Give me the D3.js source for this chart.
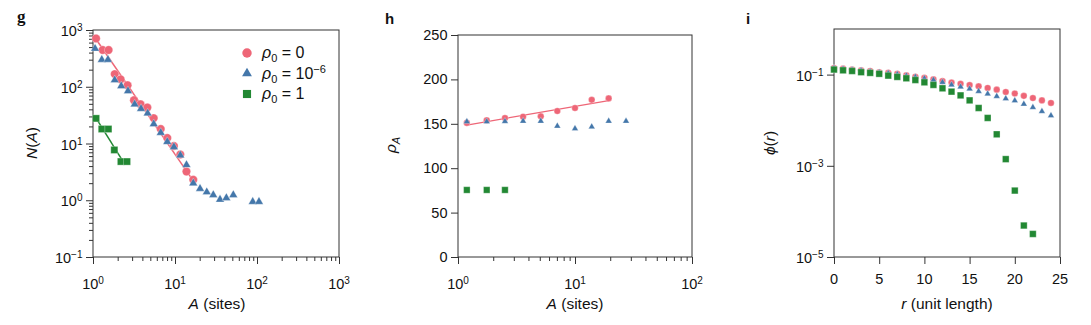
<!DOCTYPE html>
<html><head><meta charset="utf-8">
<script src="https://cdn.jsdelivr.net/npm/d3@7"></script>
<style>body{margin:0;background:#fff}</style>
</head><body>
<svg id="c" width="1091" height="325"></svg>
<script>
// ---------- DATA ----------
// Panel g : N(A) vs A
const gA0 = [1.09,1.31,1.55,1.84,2.17,2.64,3.16,3.8,4.6,5.5,6.7,8.05,9.7,11.6,13.8,16.7];
const gN0 = [710,444,444,167,135,106,58,49,43,28,18,12.5,9,6.4,3.2,2.3];
const gA6 = [1.06,1.28,1.52,1.84,2.21,2.67,3.22,3.85,4.64,5.5,6.7,8.05,9.7,11.6,13.8,16.7,20.2,24.4,29.3,35.4,42.3,51.4,88.7,105.7];
const gN6 = [470,300,300,131,103,84,49,41,34,22,15.5,10.7,8.7,6.2,4.2,2.0,1.6,1.39,1.24,1.03,1.1,1.24,0.94,0.94];
const gA1 = [1.09,1.28,1.54,1.82,2.19,2.6];
const gN1 = [27.7,18,18,7.7,4.8,4.8];
const gFitA0 = [1.06,16.7], gFitN0 = [730,2.2];
const gFitA1 = [1.09,2.34], gFitN1 = [28,4.75];
const gXTicks = [1,10,100,1000], gXExp = ["0","1","2","3"];
const gYTicks = [0.1,1,10,100,1000], gYExp = ["−1","0","1","2","3"];

// Panel h : rho_A vs A
const hA0 = [1.19,1.76,2.52,3.6,5.1,7.06,10,13.9,19.4];
const hR0 = [151,154,156.5,158,158.4,164.4,167.8,177,178.6];
const hA6 = [1.19,1.76,2.52,3.6,5.1,7.06,10,13.9,19.4,27.3];
const hR6 = [152.4,152.4,152.7,153,153,147.5,144.5,146.7,153,153];
const hA1 = [1.19,1.76,2.52];
const hR1 = [75.5,75.5,75.5];
const hFitA = [1.19,19.4], hFitR = [148.6,176];
const hXTicks = [1,10,100], hXExp = ["0","1","2"];
const hYTicks = [0,50,100,150,200,250];

// Panel i : phi(r) vs r
const iR = [0,1,2,3,4,5,6,7,8,9,10,11,12,13,14,15,16,17,18,19,20,21,22,23,24];
const iP0 = [0.140,0.1355,0.129,0.124,0.120,0.113,0.109,0.104,0.0966,0.090,0.0846,0.079,0.072,0.067,0.063,0.059,0.0553,0.051,0.0468,0.0415,0.0385,0.0342,0.0306,0.0272,0.0239];
const iP6 = [0.138,0.133,0.127,0.122,0.117,0.111,0.106,0.101,0.094,0.088,0.082,0.076,0.068,0.0594,0.0537,0.0485,0.043,0.0377,0.0334,0.0297,0.0268,0.0227,0.0191,0.0156,0.0126];
const iR1 = [0,1,2,3,4,5,6,7,8,9,10,11,12,13,14,15,16,17,18,19,20,21,22];
const iP1 = [0.129,0.124,0.120,0.113,0.109,0.104,0.095,0.089,0.083,0.076,0.0677,0.0594,0.050,0.0423,0.035,0.0272,0.0185,0.0112,0.0049,0.0014,0.000286,0.000049,0.000032];
const iXTicks = [0,5,10,15,20,25];
const iYTicks = [1e-5,1e-3,1e-1], iYExp = ["−5","−3","−1"];

// ---------- STYLE ----------
const FONT = '"Liberation Sans", Arial, Helvetica, sans-serif';
const C0 = '#EE6677', C6 = '#4477AA', C1 = '#228833';
const AX = '#333';
const TICKFS = 14.5, SUPFS = 10;
const svg = d3.select('#c').style('font-family', FONT);

function minorLog(lo, hi){ const m=[]; for(let d=lo; d<hi; d*=10){ for(let k=2;k<=9;k++) m.push(d*k);} return m; }

function powText(t, exp){
  t.append('tspan').text('10');
  t.append('tspan').attr('dy','-0.48em').attr('font-size',SUPFS+'px').text(exp);
}

function panel(box, xs, ys, cfg){
  const g = svg.append('g');
  const x = xs.range([box.l, box.r]);
  const y = ys.range([box.b, box.t]);
  if(cfg.xMinor){
    const a = g.append('g').attr('transform',`translate(0,${box.b})`)
      .call(d3.axisBottom(x).tickValues(cfg.xMinor).tickSize(4).tickFormat(''));
    a.select('.domain').remove(); a.selectAll('line').attr('stroke',AX);
  }
  if(cfg.yMinor){
    const a = g.append('g').attr('transform',`translate(${box.l},0)`)
      .call(d3.axisLeft(y).tickValues(cfg.yMinor).tickSize(4).tickFormat(''));
    a.select('.domain').remove(); a.selectAll('line').attr('stroke',AX);
  }
  const ax = g.append('g').attr('transform',`translate(0,${box.b})`)
    .call(d3.axisBottom(x).tickValues(cfg.xTicks).tickSize(7).tickFormat(''));
  ax.select('.domain').remove(); ax.selectAll('line').attr('stroke',AX);
  const ay = g.append('g').attr('transform',`translate(${box.l},0)`)
    .call(d3.axisLeft(y).tickValues(cfg.yTicks).tickSize(7).tickFormat(''));
  ay.select('.domain').remove(); ay.selectAll('line').attr('stroke',AX);
  g.append('rect').attr('x',box.l).attr('y',box.t).attr('width',box.r-box.l).attr('height',box.b-box.t)
    .attr('fill','none').attr('stroke',AX).attr('stroke-width',1);
  cfg.xTicks.forEach((v,i)=>{
    const t = g.append('text').attr('x',x(v)).attr('y',box.b + (cfg.xExp?32:27))
      .attr('text-anchor','middle').attr('font-size',TICKFS+'px').attr('fill','#111');
    if(cfg.xExp) powText(t, cfg.xExp[i]); else t.text(v);
  });
  cfg.yTicks.forEach((v,i)=>{
    const t = g.append('text').attr('x',box.l-10.5).attr('y',y(v) + (cfg.yExp?6:5))
      .attr('text-anchor','end').attr('font-size',TICKFS+'px').attr('fill','#111');
    if(cfg.yExp) powText(t, cfg.yExp[i]); else t.text(v);
  });
  return {g,x,y};
}

function fitLine(p, X, Y, color, w){
  p.g.append('path').datum(X.map((v,i)=>[v,Y[i]]))
    .attr('d', d3.line().x(d=>p.x(d[0])).y(d=>p.y(d[1])))
    .attr('stroke',color).attr('stroke-width',w).attr('fill','none');
}
function markers(p, X, Y, type, size, color){
  const sym = d3.symbol().type(type).size(size);
  p.g.append('g').selectAll('path').data(X.map((v,i)=>[v,Y[i]])).join('path')
    .attr('d', sym)
    .attr('transform', d=>`translate(${p.x(d[0])},${p.y(d[1])})`)
    .attr('fill',color).attr('stroke','#fff').attr('stroke-opacity',0.5).attr('stroke-width',0.6);
}

// ---------- PANEL g ----------
const pg = panel({l:93,r:339,t:30,b:257}, d3.scaleLog().domain([1,1000]), d3.scaleLog().domain([0.1,1000]),
  {xTicks:gXTicks, xExp:gXExp, yTicks:gYTicks, yExp:gYExp, xMinor:minorLog(1,1000), yMinor:minorLog(0.1,1000)});
fitLine(pg, gFitA0, gFitN0, C0, 1.5);
fitLine(pg, gFitA1, gFitN1, C1, 1.5);
markers(pg, gA0, gN0, d3.symbolCircle, 56, C0);
markers(pg, gA6, gN6, d3.symbolTriangle, 32, C6);
markers(pg, gA1, gN1, d3.symbolSquare, 50, C1);

// legend
const legendRows = [
  {type:d3.symbolCircle, size:70, color:C0, rhs:'0'},
  {type:d3.symbolTriangle, size:42, color:C6, rhs:'10', exp:'−6'},
  {type:d3.symbolSquare, size:66, color:C1, rhs:'1'}
];
legendRows.forEach((r,i)=>{
  const yy = 53 + i*20.5;
  svg.append('path').attr('d', d3.symbol().type(r.type).size(r.size)())
    .attr('transform',`translate(247,${yy})`).attr('fill',r.color);
  const t = svg.append('text').attr('x',262).attr('y',yy+5).attr('font-size','16px').attr('fill','#111');
  t.append('tspan').attr('font-style','italic').text('ρ');
  t.append('tspan').attr('dy','4').attr('font-size','11px').text('0');
  t.append('tspan').attr('dy','-4').text(' = ' + r.rhs);
  if(r.exp) t.append('tspan').attr('dy','-6').attr('font-size','11px').text(r.exp);
});

// ---------- PANEL h ----------
const ph = panel({l:458,r:692,t:35,b:257}, d3.scaleLog().domain([1,100]), d3.scaleLinear().domain([0,250]),
  {xTicks:hXTicks, xExp:hXExp, yTicks:hYTicks, xMinor:minorLog(1,100)});
fitLine(ph, hFitA, hFitR, C0, 1.2);
markers(ph, hA0, hR0, d3.symbolCircle, 34, C0);
markers(ph, hA6, hR6, d3.symbolTriangle, 19, C6);
markers(ph, hA1, hR1, d3.symbolSquare, 42, C1);

// ---------- PANEL i ----------
const pi = panel({l:834,r:1060,t:29,b:257}, d3.scaleLinear().domain([0,25]), d3.scaleLog().domain([1e-5,1]),
  {xTicks:iXTicks, yTicks:iYTicks, yExp:iYExp});
markers(pi, iR, iP0, d3.symbolCircle, 34, C0);
markers(pi, iR, iP6, d3.symbolTriangle, 19, C6);
markers(pi, iR1, iP1, d3.symbolSquare, 44, C1);

// ---------- TITLES / LABELS ----------
function txt(x,y,size){ return svg.append('text').attr('x',x).attr('y',y).attr('font-size',size).attr('fill','#111'); }
txt(17,22,'17px').attr('font-family','"Liberation Serif", "DejaVu Serif", serif').attr('font-weight','bold').text('g');
txt(385,24,'15px').attr('font-weight','bold').text('h');
txt(746,24,'15px').attr('font-weight','bold').text('i');

function xlab(cx, it, rest){
  const t = txt(cx,309,'15.5px').attr('text-anchor','middle');
  t.append('tspan').attr('font-style','italic').text(it);
  t.append('tspan').text(rest);
}
xlab(217,'A',' (sites)');
xlab(575,'A',' (sites)');
xlab(947,'r',' (unit length)');

function ylab(cx, cy){
  return svg.append('text').attr('transform',`translate(${cx},${cy}) rotate(-90)`)
    .attr('text-anchor','middle').attr('font-size','15.5px').attr('fill','#111');
}
let t1 = ylab(37,143);
t1.append('tspan').attr('font-style','italic').text('N');
t1.append('tspan').text('(');
t1.append('tspan').attr('font-style','italic').text('A');
t1.append('tspan').text(')');
let t2 = ylab(396,145);
t2.append('tspan').attr('font-style','italic').text('ρ');
t2.append('tspan').attr('font-style','italic').attr('dy','4').attr('font-size','11px').text('A');
let t3 = ylab(775,143);
t3.append('tspan').attr('font-style','italic').text('ϕ');
t3.append('tspan').text('(');
t3.append('tspan').attr('font-style','italic').text('r');
t3.append('tspan').text(')');
</script>
</body></html>
